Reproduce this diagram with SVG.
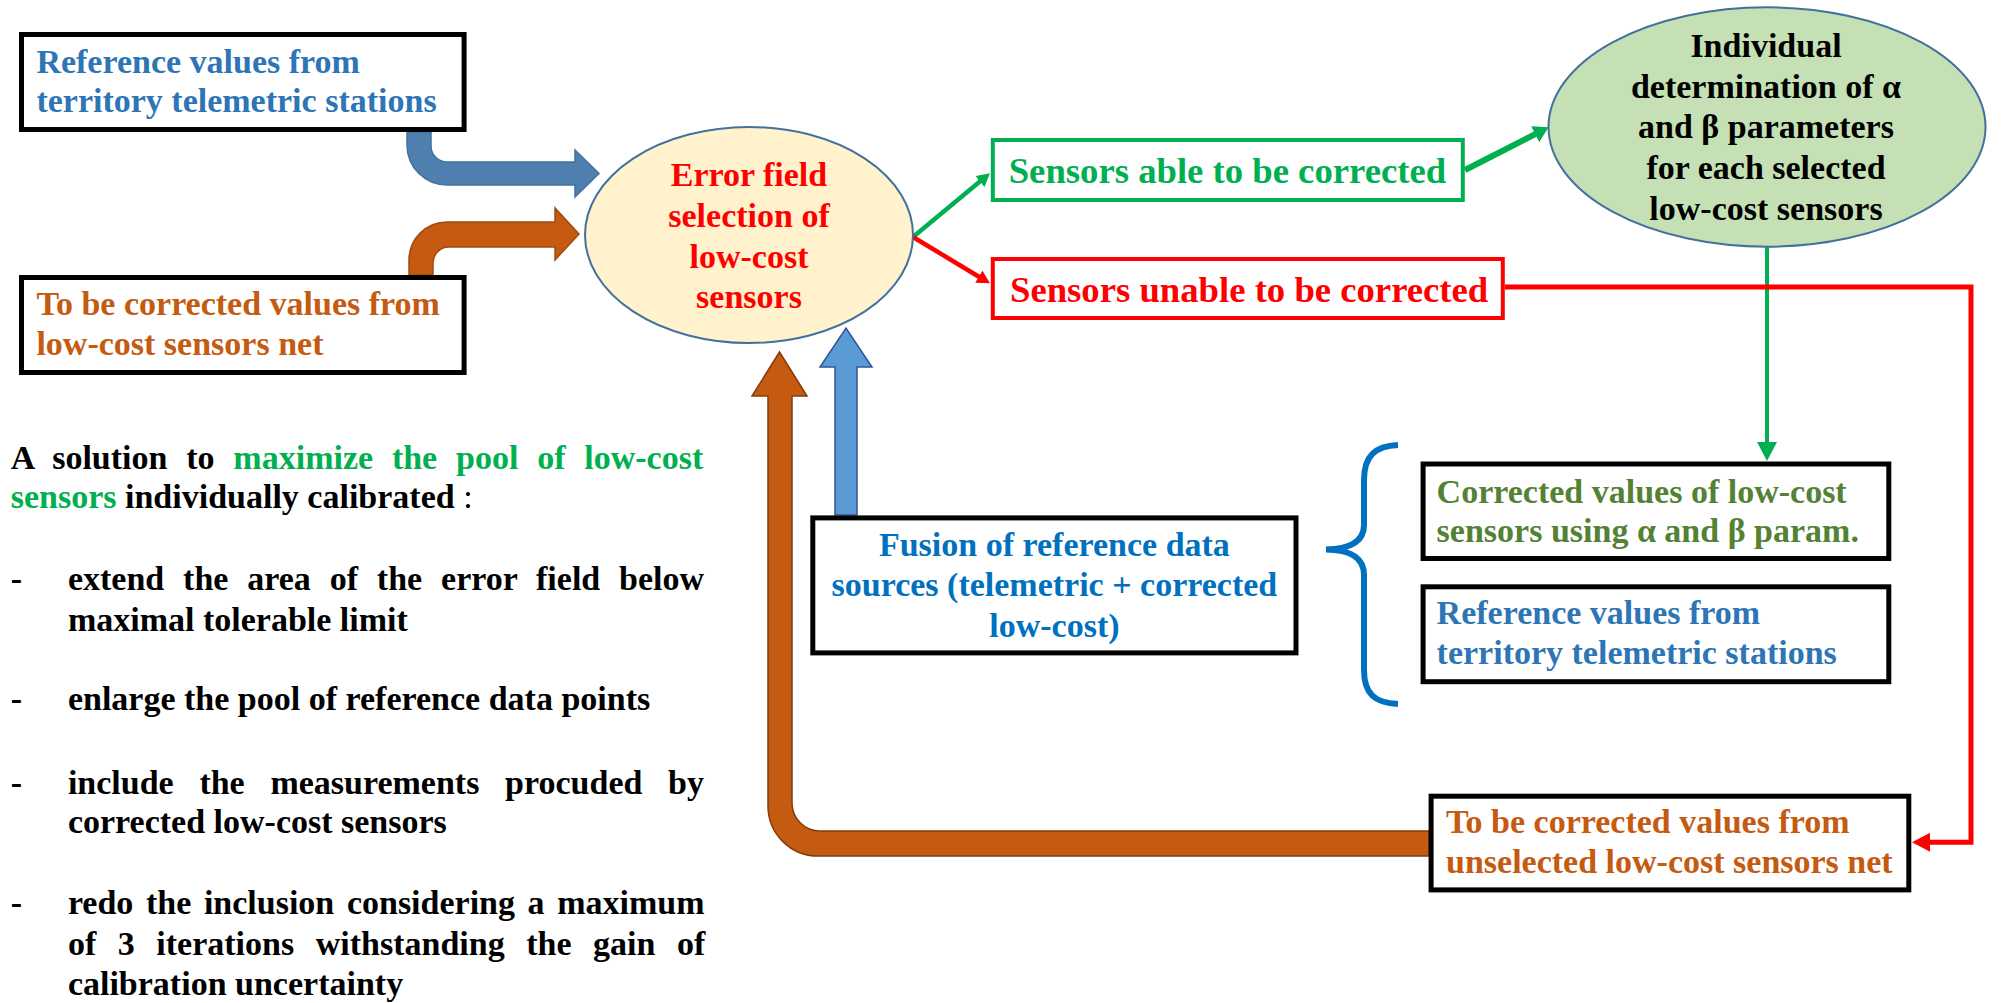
<svg xmlns="http://www.w3.org/2000/svg" width="2011" height="1003" viewBox="0 0 2011 1003">
<style>
text{font-family:"Liberation Serif","Times New Roman",serif;font-weight:bold;font-size:34px}
.box{fill:#fff;stroke:#000;stroke-width:5}
.mid{text-anchor:middle}
.blue{fill:#2E75B6}.dblue{fill:#0070C0}.orange{fill:#C55A11}.green{fill:#00B050}.red{fill:#FF0000}.olive{fill:#548235}.blk{fill:#000}
.ell{stroke:#41719C;stroke-width:2}
</style>
<defs>
<marker id="gs" markerUnits="userSpaceOnUse" markerWidth="13" markerHeight="14" refX="3" refY="7" orient="auto"><path d="M0,0 L13,7 L0,14 z" fill="#00B050"/></marker>
<marker id="rs" markerUnits="userSpaceOnUse" markerWidth="13" markerHeight="14" refX="3" refY="7" orient="auto"><path d="M0,0 L13,7 L0,14 z" fill="#FF0000"/></marker>
<marker id="gm" markerUnits="userSpaceOnUse" markerWidth="15" markerHeight="18" refX="5" refY="9" orient="auto"><path d="M0,0 L15,9 L0,18 z" fill="#00B050"/></marker>
<marker id="gl" markerUnits="userSpaceOnUse" markerWidth="19" markerHeight="20" refX="9" refY="10" orient="auto"><path d="M0,0 L19,10 L0,20 z" fill="#00B050"/></marker>
<marker id="rl" markerUnits="userSpaceOnUse" markerWidth="18" markerHeight="19" refX="8" refY="9.5" orient="auto"><path d="M0,0 L18,9.5 L0,19 z" fill="#FF0000"/></marker>
</defs>
<rect width="2011" height="1003" fill="#fff"/>

<g id="connectors">
  <path id="bent-blue" d="M407 132 L407 145 A40 40 0 0 0 447 185 L575 185 L575 197 L599 173.5 L575 150 L575 162 L447 162 A16 16 0 0 1 431 146 L431 132 Z" fill="#4F7FAF" stroke="#41719C" stroke-width="1.5"/>
  <path id="bent-orange" d="M409 275 L409 260 A38 38 0 0 1 447 222 L555 222 L555 208 L579 234 L555 260 L555 247 L449 247 A16 16 0 0 0 433 263 L433 275 Z" fill="#C55A11" stroke="#A04A10" stroke-width="1.5"/>
  <path id="u-orange" d="M1429 831 L820 831 A28 28 0 0 1 792 803 L792 396 L807 396 L779.5 352 L752 396 L768 396 L768 806 A50 50 0 0 0 818 856 L1429 856 Z" fill="#C55A11" stroke="#843C0C" stroke-width="1.5"/>
  <path id="up-blue" d="M835 515 L835 367 L820 367 L846 328 L872 367 L857 367 L857 515 Z" fill="#5B9BD5" stroke="#2F5597" stroke-width="1.5"/>
  <line x1="913" y1="237" x2="982.3" y2="179.6" stroke="#00B050" stroke-width="4.5" marker-end="url(#gs)"/>
  <line x1="913" y1="237" x2="981.4" y2="278.2" stroke="#FF0000" stroke-width="4.5" marker-end="url(#rs)"/>
  <line x1="1465" y1="170" x2="1539.6" y2="131.9" stroke="#00B050" stroke-width="6" marker-end="url(#gm)"/>
  <line x1="1767" y1="247" x2="1767" y2="451" stroke="#00B050" stroke-width="4" marker-end="url(#gl)"/>
  <path d="M1505 287 L1971 287 L1971 842.3 L1922 842.3" fill="none" stroke="#FF0000" stroke-width="5" marker-end="url(#rl)"/>
  <path id="brace" d="M1398 445 C1375 446 1364 456 1364 480 L1364 525 C1364 542 1350 549 1326 549.5 C1350 550 1364 557 1364 575 L1364 670 C1364 694 1375 703 1398 704" fill="none" stroke="#0070C0" stroke-width="6"/>
</g>

<g id="ref-telemetric">
  <rect class="box" x="21.5" y="34.5" width="442.6" height="95"/>
  <text class="blue" x="36.4" y="72.7">Reference values from</text>
  <text class="blue" x="36.4" y="111.7">territory telemetric stations</text>
</g>

<g id="to-be-corrected">
  <rect class="box" x="21.5" y="277.5" width="442.6" height="95"/>
  <text class="orange" x="36.4" y="315">To be corrected values from</text>
  <text class="orange" x="36.4" y="355">low-cost sensors net</text>
</g>

<g id="error-field">
  <ellipse class="ell" cx="749" cy="235" rx="164" ry="108" fill="#FFF2CC"/>
  <text class="red mid" x="749" y="186">Error field</text>
  <text class="red mid" x="749" y="227">selection of</text>
  <text class="red mid" x="749" y="268">low-cost</text>
  <text class="red mid" x="749" y="308">sensors</text>
</g>

<g id="able">
  <rect x="992.8" y="140" width="470" height="60" fill="#fff" stroke="#00B050" stroke-width="4"/>
  <text class="green" x="1008.7" y="183" style="font-size:36.7px">Sensors able to be corrected</text>
</g>

<g id="unable">
  <rect x="992.8" y="259" width="510" height="59" fill="#fff" stroke="#FF0000" stroke-width="4"/>
  <text class="red" x="1010" y="302" style="font-size:36.7px">Sensors unable to be corrected</text>
</g>

<g id="individual">
  <ellipse class="ell" cx="1767" cy="127" rx="218.5" ry="119.7" fill="#C5E0B4"/>
  <text class="blk mid" x="1766" y="57">Individual</text>
  <text class="blk mid" x="1766" y="97.7">determination of α</text>
  <text class="blk mid" x="1766" y="138.4">and β parameters</text>
  <text class="blk mid" x="1766" y="179.1">for each selected</text>
  <text class="blk mid" x="1766" y="219.8">low-cost sensors</text>
</g>

<g id="fusion">
  <rect class="box" x="812.8" y="517.9" width="483.2" height="135"/>
  <text class="dblue mid" x="1054.4" y="555.5">Fusion of reference data</text>
  <text class="dblue mid" x="1054.4" y="596">sources (telemetric + corrected</text>
  <text class="dblue mid" x="1054.4" y="637">low-cost)</text>
</g>

<g id="corrected-values">
  <rect class="box" x="1423.1" y="464" width="465.7" height="94.5"/>
  <text class="olive" x="1436.6" y="503">Corrected values of low-cost</text>
  <text class="olive" x="1436.6" y="542.3">sensors using α and β param.</text>
</g>

<g id="ref-telemetric-2">
  <rect class="box" x="1423.1" y="586.8" width="465.7" height="94.9"/>
  <text class="blue" x="1436.6" y="624">Reference values from</text>
  <text class="blue" x="1436.6" y="664.4">territory telemetric stations</text>
</g>

<g id="unselected">
  <rect class="box" x="1431.1" y="796.2" width="477.7" height="93.7"/>
  <text class="orange" x="1446" y="833.2">To be corrected values from</text>
  <text class="orange" x="1446" y="872.7">unselected low-cost sensors net</text>
</g>

<g id="notes">
  <text class="blk" x="10.7" y="469" word-spacing="10.3">A solution to <tspan class="green">maximize the pool of low-cost</tspan></text>
  <text class="blk" x="10.7" y="508"><tspan class="green">sensors</tspan> individually calibrated<tspan style="font-weight:normal"> :</tspan></text>
  <text class="blk" x="10.7" y="590">-</text>
  <text class="blk" x="67.9" y="590" word-spacing="10.36">extend the area of the error field below</text>
  <text class="blk" x="67.9" y="631">maximal tolerable limit</text>
  <text class="blk" x="10.7" y="710">-</text>
  <text class="blk" x="67.9" y="710">enlarge the pool of reference data points</text>
  <text class="blk" x="10.7" y="794">-</text>
  <text class="blk" x="67.9" y="794" word-spacing="17.2">include the measurements procuded by</text>
  <text class="blk" x="67.9" y="833">corrected low-cost sensors</text>
  <text class="blk" x="10.7" y="914">-</text>
  <text class="blk" x="67.9" y="914" word-spacing="4.1">redo the inclusion considering a maximum</text>
  <text class="blk" x="67.9" y="955" word-spacing="13.05">of 3 iterations withstanding the gain of</text>
  <text class="blk" x="67.9" y="995">calibration uncertainty</text>
</g>
</svg>
